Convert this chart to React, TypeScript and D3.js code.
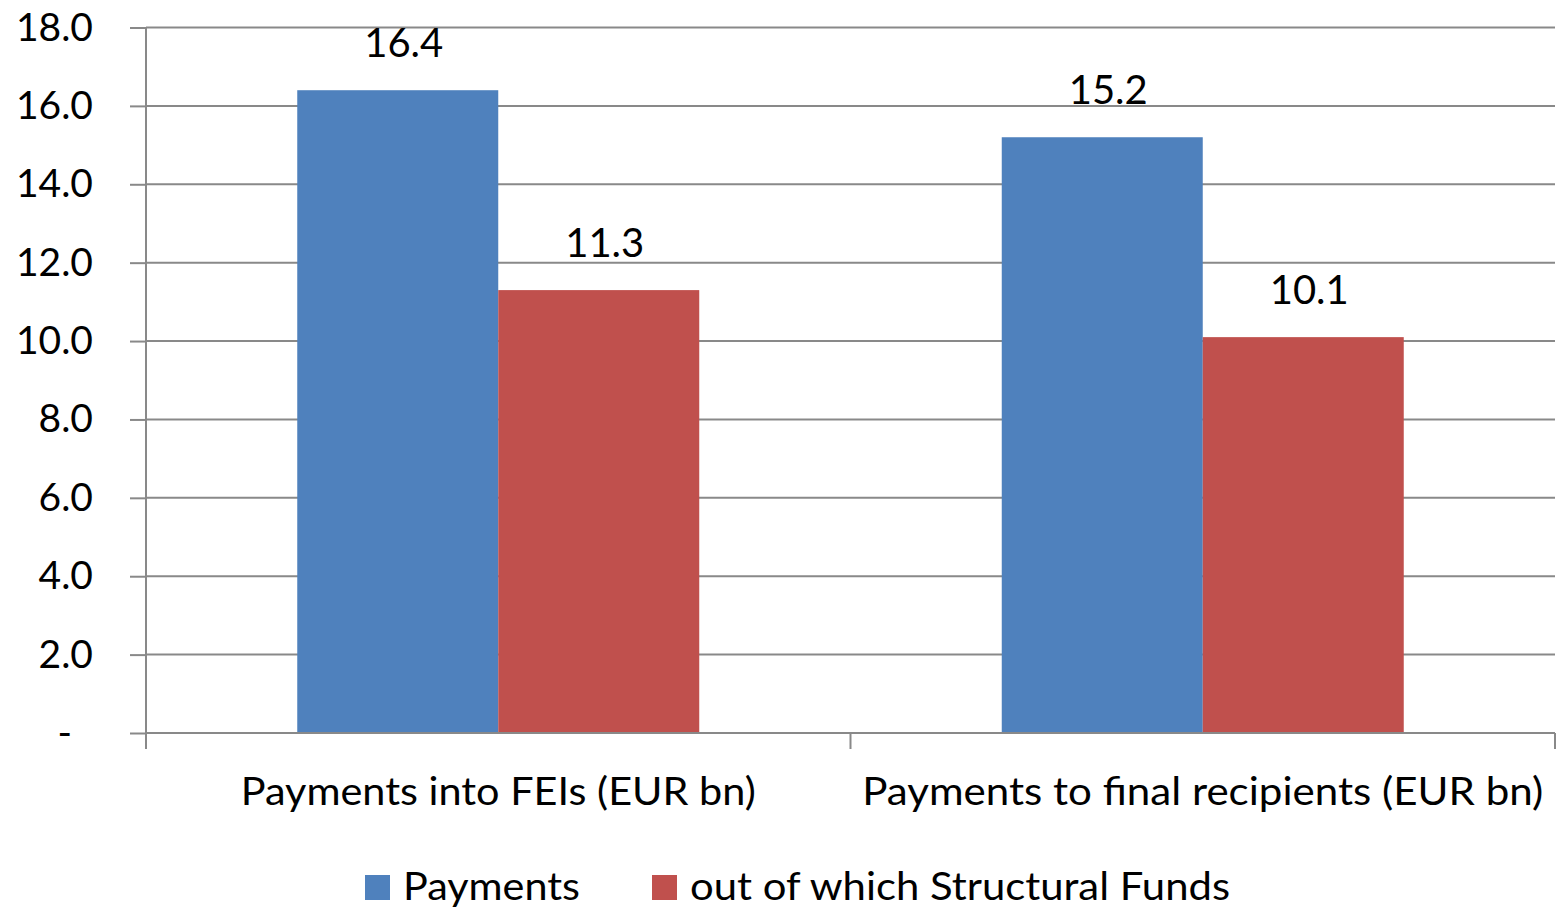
import React, { useEffect, useRef } from "react";
import * as d3 from "d3";

const categories = ["Payments into FEIs (EUR bn)", "Payments to final recipients (EUR bn)"];
const seriesNames = ["Payments", "out of which Structural Funds"];
const payments = [16.4, 15.2];
const structuralFunds = [11.3, 10.1];
const yTicks = [0, 2, 4, 6, 8, 10, 12, 14, 16, 18];
const colors = ["#4F81BD", "#C0504D"];

const App = () => {
    const svgRef = useRef<SVGSVGElement>(null);

    useEffect(() => {
        const svg = d3.select(svgRef.current);
        svg.selectAll("*").remove();

        const width = 1557, height = 910;
        const left = 146, right = 1555, top = 27.5, bottom = 733;
        const font = "Lato, 'Open Sans', sans-serif";
        const grey = "#898989";

        const x = d3.scaleBand().domain(categories).range([left, right]).paddingInner(0).paddingOuter(0);
        const xs = d3.scaleBand().domain(seriesNames).range([0, x.bandwidth()]).paddingInner(0).paddingOuter(0.7525);
        const y = d3.scaleLinear().domain([0, 18]).range([bottom, top]);

        // gridlines
        svg.append("g")
            .selectAll("line")
            .data(yTicks.filter(d => d > 0))
            .join("line")
            .attr("x1", left)
            .attr("x2", right)
            .attr("y1", d => y(d))
            .attr("y2", d => y(d))
            .attr("stroke", grey)
            .attr("stroke-width", 2);

        // y axis
        const yAxis = d3.axisLeft(y)
            .tickValues(yTicks)
            .tickSize(16)
            .tickPadding(0)
            .tickFormat(() => "");
        const gy = svg.append("g").attr("transform", `translate(${left},0)`).call(yAxis);
        gy.select(".domain").remove();
        gy.selectAll("line").attr("stroke", grey).attr("stroke-width", 2);
        gy.append("line")
            .attr("x1", 0).attr("x2", 0)
            .attr("y1", top).attr("y2", bottom + 16)
            .attr("stroke", grey).attr("stroke-width", 2);

        svg.append("g")
            .selectAll("text")
            .data(yTicks)
            .join("text")
            .attr("x", d => (d === 0 ? 72 : 93))
            .attr("y", d => y(d) + 13)
            .attr("text-anchor", "end")
            .attr("font-family", font)
            .attr("font-size", 39)
            .attr("fill", "#000")
            .text(d => (d === 0 ? "-" : d.toFixed(1)));

        // bars
        const data = [payments, structuralFunds];
        data.forEach((values, si) => {
            svg.append("g")
                .selectAll("rect")
                .data(values)
                .join("rect")
                .attr("x", (d, i) => (x(categories[i]) as number) + (xs(seriesNames[si]) as number))
                .attr("y", d => y(d))
                .attr("width", xs.bandwidth())
                .attr("height", d => y(0) - y(d))
                .attr("fill", colors[si]);

            svg.append("g")
                .selectAll("text")
                .data(values)
                .join("text")
                .attr("x", (d, i) => (x(categories[i]) as number) + (xs(seriesNames[si]) as number) + xs.bandwidth() / 2 + 6)
                .attr("y", d => y(d) - 33)
                .attr("text-anchor", "middle")
                .attr("font-family", font)
                .attr("font-size", 40)
                .attr("fill", "#000")
                .text(d => d.toFixed(1));
        });

        // x axis
        svg.append("line")
            .attr("x1", left).attr("x2", right)
            .attr("y1", bottom).attr("y2", bottom)
            .attr("stroke", grey).attr("stroke-width", 2);
        svg.append("g")
            .selectAll("line")
            .data([...categories.map(c => x(c) as number), right])
            .join("line")
            .attr("x1", d => d).attr("x2", d => d)
            .attr("y1", bottom).attr("y2", bottom + 16)
            .attr("stroke", grey).attr("stroke-width", 2);

        const labelWidths = [515, 681];
        svg.append("g")
            .selectAll("text")
            .data(categories)
            .join("text")
            .attr("x", d => (x(d) as number) + x.bandwidth() / 2)
            .attr("y", 805)
            .attr("text-anchor", "middle")
            .attr("font-family", font)
            .attr("font-size", 38)
            .attr("textLength", (d, i) => labelWidths[i])
            .attr("lengthAdjust", "spacingAndGlyphs")
            .attr("fill", "#000")
            .text(d => d);

        // legend
        const legendX = [365, 652];
        const legendW = [177, 540];
        const lg = svg.append("g");
        seriesNames.forEach((name, i) => {
            lg.append("rect")
                .attr("x", legendX[i]).attr("y", 875)
                .attr("width", 25).attr("height", 25)
                .attr("fill", colors[i]);
            lg.append("text")
                .attr("x", legendX[i] + 38)
                .attr("y", 900)
                .attr("font-family", font)
                .attr("font-size", 38)
                .attr("textLength", legendW[i])
                .attr("lengthAdjust", "spacingAndGlyphs")
                .attr("fill", "#000")
                .text(name);
        });

        svg.attr("width", width).attr("height", height);
    }, []);

    return (
        <div style={{ position: "absolute", left: 0, top: 0 }}>
            <svg ref={svgRef} width={1557} height={910} style={{ display: "block", background: "#fff" }}></svg>
        </div>
    );
};

export default App;
